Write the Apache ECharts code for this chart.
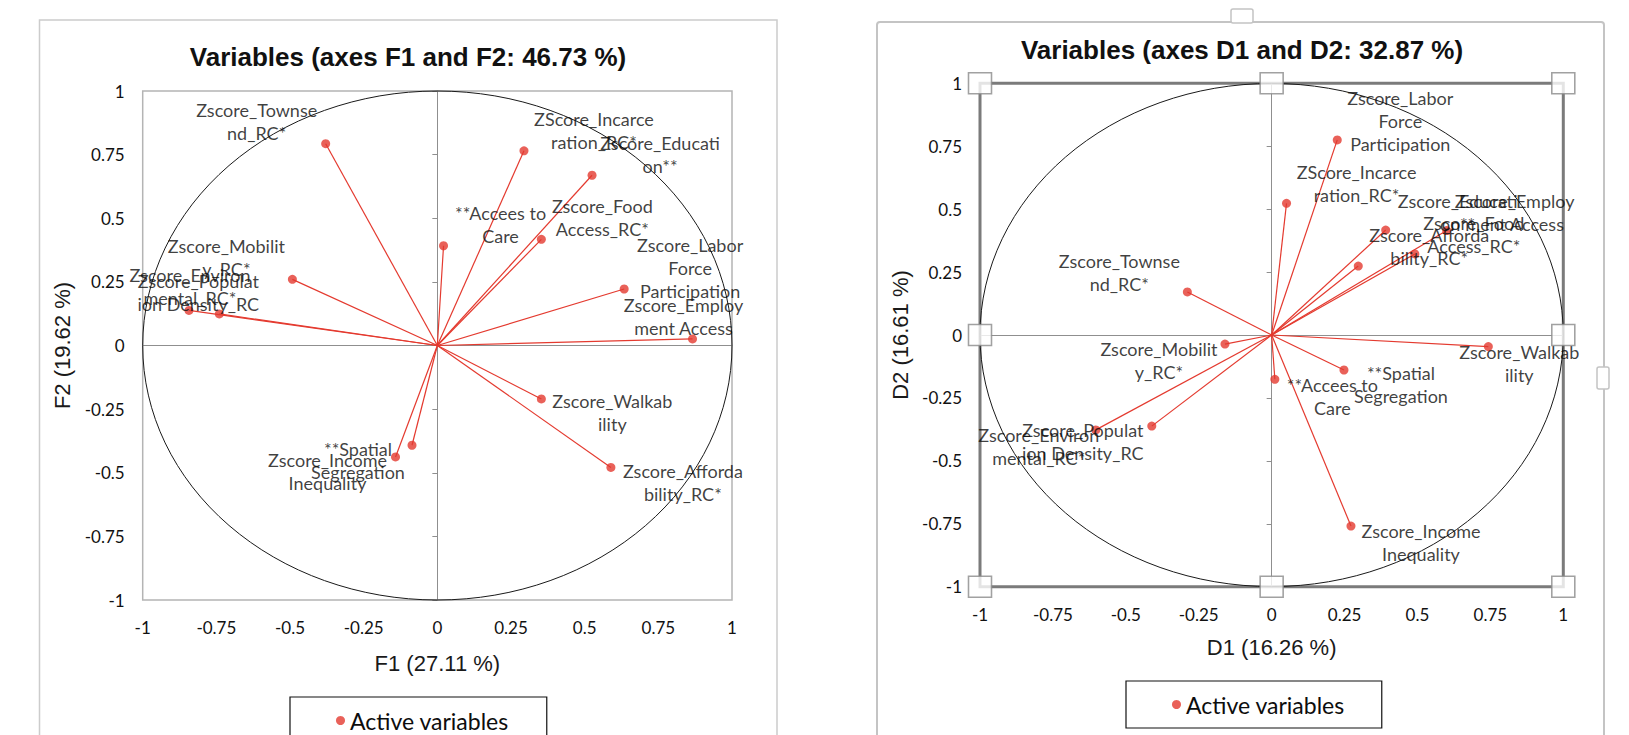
<!DOCTYPE html>
<html><head><meta charset="utf-8">
<script src="https://cdn.jsdelivr.net/npm/echarts@6/dist/echarts.min.js"></script>
<style>html,body{margin:0;padding:0;background:#fff;overflow:hidden}#c{width:1629px;height:735px}</style>
</head><body><div id="c"></div>
<script>
// ---------- data ----------
const variableLabels = ['Zscore_Townse\nnd_RC*', 'ZScore_Incarce\nration_RC*', 'Zscore_Educati\non**', '**Accees to\nCare', 'Zscore_Food\nAccess_RC*', 'Zscore_Labor\nForce\nParticipation', 'Zscore_Employ\nment Access', 'Zscore_Mobilit\ny_RC*', 'Zscore_Environ\nmental_RC*', 'Zscore_Populat\nion Density_RC', 'Zscore_Walkab\nility', 'Zscore_Afforda\nbility_RC*', '**Spatial\nSegregation', 'Zscore_Income\nInequality'];
const F1 = [-0.379, 0.294, 0.525, 0.021, 0.353, 0.634, 0.866, -0.492, -0.843, -0.740, 0.353, 0.589, -0.086, -0.142];
const F2 = [0.793, 0.765, 0.669, 0.392, 0.417, 0.222, 0.026, 0.260, 0.138, 0.124, -0.210, -0.479, -0.392, -0.438];
const D1 = [-0.289, 0.051, 0.391, 0.011, 0.491, 0.225, 0.600, -0.160, -0.603, -0.411, 0.743, 0.297, 0.248, 0.272];
const D2 = [0.171, 0.523, 0.417, -0.176, 0.322, 0.775, 0.415, -0.036, -0.377, -0.362, -0.046, 0.274, -0.139, -0.759];
const titleLeft = 'Variables (axes F1 and F2: 46.73 %)';
const titleRight = 'Variables (axes D1 and D2: 32.87 %)';
const axisNames = ['F1 (27.11 %)', 'F2 (19.62 %)', 'D1 (16.26 %)', 'D2 (16.61 %)'];
const legendName = 'Active variables';
const axisRange = [-1, 1];
const tickStep = 0.25;
const handlePositions = [[-1, 1], [0, 1], [1, 1], [-1, 0], [1, 0], [-1, -1], [0, -1], [1, -1]];

// ---------- label layout (pixel offsets of label centre from point) ----------
const leftLabelOffsets = [[-69,-22],[70,-20],[68,-21],[57,-21],[61,-22],[66,-21],[-9,-22],[-66,-22],[1,-24],[-21,-21],[71,14],[72,15],[-54,15],[-68,14.5]];
const rightLabelOffsets = [[-68,-19],[70,-20],[72,-18],[57.5,17],[59,-19],[63,-19],[68,-18],[-66,16],[-57,17],[-69,15],[31,17],[71,-20],[57,15],[70,16]];

const RED = '#e43a2f';
const LBL = { fontFamily: 'Lato', fontSize: 18, lineHeight: 23, color: '#0d0d0d' };

function mainX(grid, name, gap) {
  return { gridIndex: grid, type: 'value', min: axisRange[0], max: axisRange[1], interval: tickStep,
    name: name, nameLocation: 'middle', nameGap: gap,
    nameTextStyle: { fontFamily: 'Liberation Sans', fontSize: 22, color: '#1a1a1a' },
    axisLine: { show: false }, axisTick: { show: false }, splitLine: { show: false },
    axisLabel: { margin: 19, fontFamily: 'Lato', fontSize: 17, color: '#111' } };
}
function mainY(grid, name, gap) {
  return { gridIndex: grid, type: 'value', min: axisRange[0], max: axisRange[1], interval: tickStep,
    name: name, nameLocation: 'middle', nameGap: gap, nameRotate: 90,
    nameTextStyle: { fontFamily: 'Liberation Sans', fontSize: 22, color: '#1a1a1a' },
    axisLine: { show: false }, axisTick: { show: false }, splitLine: { show: false },
    axisLabel: { margin: 18, fontFamily: 'Lato', fontSize: 17, color: '#111' } };
}
function zeroX(grid, color) {
  return { gridIndex: grid, type: 'value', min: axisRange[0], max: axisRange[1], interval: tickStep, position: 'top',
    axisLine: { show: true, onZero: true, lineStyle: { color: color, width: 1 } },
    axisTick: { show: false }, axisLabel: { show: false }, splitLine: { show: false } };
}
function zeroY(grid, color) {
  return { gridIndex: grid, type: 'value', min: axisRange[0], max: axisRange[1], interval: tickStep, position: 'right',
    axisLine: { show: true, onZero: true, lineStyle: { color: color, width: 1 } },
    axisTick: { show: true, inside: true, length: 5, lineStyle: { color: color, width: 1 } },
    axisLabel: { show: false }, splitLine: { show: false } };
}
function circleSeries(xi, yi) {
  return { type: 'custom', xAxisIndex: xi, yAxisIndex: yi, silent: true, z: 2, data: [[0, 0]],
    renderItem: function (params, api) {
      const c = api.coord([0, 0]); const e = api.coord([1, 1]);
      const rx = e[0] - c[0], ry = c[1] - e[1];
      const d = 'M ' + (c[0] - rx) + ' ' + c[1] + ' A ' + rx + ' ' + ry + ' 0 1 0 ' + (c[0] + rx) + ' ' + c[1] +
                ' A ' + rx + ' ' + ry + ' 0 1 0 ' + (c[0] - rx) + ' ' + c[1] + ' Z';
      return { type: 'path', shape: { pathData: d }, style: { fill: 'none', stroke: '#1a1a1a', lineWidth: 1 } };
    } };
}
function vectorSeries(xi, yi, xs, ys) {
  return { type: 'custom', xAxisIndex: xi, yAxisIndex: yi, silent: true, z: 3,
    data: xs.map((x, i) => [x, ys[i]]),
    renderItem: function (params, api) {
      const o = api.coord([0, 0]); const p = api.coord([api.value(0), api.value(1)]);
      return { type: 'line', shape: { x1: o[0], y1: o[1], x2: p[0], y2: p[1] }, style: { stroke: RED, lineWidth: 1.2 } };
    } };
}
function pointSeries(xi, yi, xs, ys, offsets) {
  return { type: 'scatter', name: legendName, xAxisIndex: xi, yAxisIndex: yi, z: 6, clip: false,
    symbol: 'circle', symbolSize: 9, itemStyle: { color: RED },
    label: Object.assign({ show: true, position: 'inside', formatter: '{b}', align: 'center', verticalAlign: 'middle', textBorderWidth: 0 }, LBL),
    data: xs.map((x, i) => ({ name: variableLabels[i], value: [x, ys[i]], label: { offset: offsets[i] } })) };
}

const chart = echarts.init(document.getElementById('c'), null, { renderer: 'svg' });
chart.setOption({
  animation: false,
  backgroundColor: '#fff',
  grid: [
    { left: 142.7, top: 91, width: 589.3, height: 509, show: true, borderColor: '#b4b4b4', borderWidth: 1.5, backgroundColor: 'transparent' },
    { left: 980, top: 83.3, width: 583.3, height: 503.4, show: true, borderColor: '#7b7b7b', borderWidth: 3, backgroundColor: 'transparent' }
  ],
  xAxis: [ mainX(0, axisNames[0], 52), zeroX(0, '#8f8f8f'), mainX(1, axisNames[2], 50), zeroX(1, '#8f8f8f') ],
  yAxis: [ mainY(0, axisNames[1], 69), zeroY(0, '#8f8f8f'), mainY(1, axisNames[3], 69), zeroY(1, '#8f8f8f') ],
  legend: [
    { data: [legendName], left: 290, top: 697, icon: 'circle', itemWidth: 9, itemHeight: 9, selectedMode: false,
      padding: [12, 38, 14, 46], borderColor: '#111', borderWidth: 1.2,
      textStyle: { fontFamily: 'Lato', fontSize: 23, color: '#0d0d0d' } },
    { data: [legendName], left: 1126, top: 681, icon: 'circle', itemWidth: 9, itemHeight: 9, selectedMode: false,
      padding: [12, 37, 12, 46], borderColor: '#111', borderWidth: 1.2,
      textStyle: { fontFamily: 'Lato', fontSize: 23, color: '#0d0d0d' } }
  ],
  graphic: [
    { type: 'rect', z: -10, shape: { x: 39.5, y: 20, width: 737.5, height: 740 }, style: { fill: 'none', stroke: '#cccccc', lineWidth: 1.5 } },
    { type: 'rect', z: -10, shape: { x: 877, y: 22, width: 727, height: 740, r: 3 }, style: { fill: 'none', stroke: '#c4c4c4', lineWidth: 2 } },
    { type: 'rect', z: -9, shape: { x: 1231, y: 9, width: 22, height: 14, r: 2 }, style: { fill: '#fff', stroke: '#c4c4c4', lineWidth: 1.5 } },
    { type: 'rect', z: -9, shape: { x: 1597, y: 367, width: 12, height: 22, r: 2 }, style: { fill: '#fff', stroke: '#c4c4c4', lineWidth: 1.5 } },
    { type: 'text', x: 408, y: 57, style: { text: titleLeft, fontFamily: 'Liberation Sans', fontWeight: 'bold', fontSize: 26, fill: '#111', align: 'center', verticalAlign: 'middle', textAlign: 'center', textVerticalAlign: 'middle' } },
    { type: 'text', x: 1242, y: 50, style: { text: titleRight, fontFamily: 'Liberation Sans', fontWeight: 'bold', fontSize: 26, fill: '#111', align: 'center', verticalAlign: 'middle', textAlign: 'center', textVerticalAlign: 'middle' } }
  ],
  series: [
    circleSeries(0, 0),
    vectorSeries(0, 0, F1, F2),
    pointSeries(0, 0, F1, F2, leftLabelOffsets),
    circleSeries(2, 2),
    vectorSeries(2, 2, D1, D2),
    pointSeries(2, 2, D1, D2, rightLabelOffsets),
    { type: 'scatter', xAxisIndex: 2, yAxisIndex: 2, silent: true, clip: false, z: 8, symbol: 'rect', symbolSize: [23, 21],
      itemStyle: { color: '#ffffff', borderColor: '#8a8a8a', borderWidth: 1.5 }, label: { show: false },
      data: handlePositions }
  ]
});
</script>
</body></html>
